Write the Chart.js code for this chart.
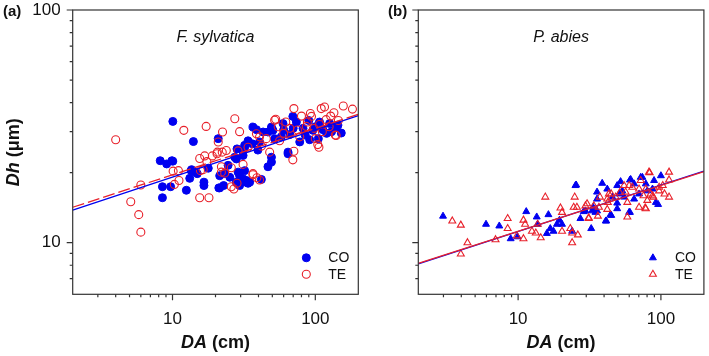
<!DOCTYPE html>
<html lang="en">
<head>
<meta charset="UTF-8">
<title>Dh vs DA</title>
<script src="https://cdn.jsdelivr.net/npm/chart.js@4.4.1/dist/chart.umd.min.js"></script>
<style>
  body { margin: 0; background: #fff; }
  #wrap { position: relative; width: 709px; height: 356px; }
  canvas { position: absolute; top: 0; }
  #chartA { left: 0; }
  #chartB { left: 370px; }
</style>
</head>
<body>
<div id="wrap">
  <canvas id="chartA" width="370" height="356"></canvas>
  <canvas id="chartB" width="339" height="356"></canvas>
</div>
<script>
// axis ticks
const xTicks = [3, 4, 5, 6, 7, 8, 9, 10, 20, 30, 40, 50, 60, 70, 80, 90, 100];
const yTicks = [7, 8, 9, 10, 20, 30, 40, 50, 60, 70, 80, 90, 100];
const tickLabels = [10, 100];

// (a) F. sylvatica, [DA cm, Dh um]
const fsCO = [
  [10.05, 33.2], [14.0, 27.2], [20.9, 28.0], [8.2, 22.5], [9.1, 21.8], [10.05, 22.4], [9.9, 22.5],
  [8.5, 17.4], [9.7, 17.4], [8.5, 15.6], [12.5, 16.8], [13.2, 18.9], [13.5, 20.4], [13.6, 20.6],
  [14.3, 20.2], [14.9, 19.8], [16.6, 18.2], [16.6, 17.6], [17.8, 20.9], [21.1, 17.2], [22.8, 17.6],
  [25.2, 19.1], [29.5, 17.6], [32.6, 18.2], [33.8, 18.0], [41.9, 18.7], [23.2, 19.8], [29.5, 19.4],
  [69.6, 34.9], [36.6, 31.4], [38.7, 30.6], [49.3, 31.4], [59.4, 32.5], [73.7, 33.0], [107, 33.0],
  [126, 32.5], [144, 32.0], [152, 29.6], [140, 31.4], [113, 30.6], [82, 31.0], [96, 30.4],
  [91.3, 27.7], [77.8, 27.1], [66.3, 29.2], [57.8, 28.5], [51.9, 28.0], [46.6, 29.9], [43.1, 29.9],
  [50.5, 30.4], [40.7, 27.1], [39.6, 25.0], [33.8, 27.4], [32.0, 26.2], [31.2, 24.9], [36.2, 26.6],
  [28.3, 25.3], [28.0, 22.9], [31.2, 23.7], [24.5, 21.5], [32.0, 20.4], [49.3, 22.2], [46.6, 21.2],
  [64.4, 24.5], [21.4, 19.4], [28.8, 20.1], [31.2, 18.8], [28.0, 18.2], [33.0, 18.5], [34.7, 18.2],
  [21.4, 17.2], [27.3, 23.3], [32.0, 25.7], [49.3, 23.3], [64.4, 24.1], [60, 30.5], [85, 29.0],
  [100, 31.5], [120, 29.5], [105, 28.0], [70, 31.0], [90, 33.5], [130, 30.0]
];
const fsTE = [
  [4.0, 27.7], [12.0, 30.4], [17.2, 31.6], [6.0, 17.7], [5.1, 15.0], [5.8, 13.2], [6.0, 11.1],
  [10.1, 20.3], [11.0, 20.4], [11.1, 18.5], [10.3, 17.8], [15.5, 23.0], [16.8, 23.6], [17.4, 22.3],
  [19.0, 23.6], [20.6, 24.5], [20.9, 27.1], [15.5, 15.6], [18.0, 15.6], [15.7, 20.4], [16.4, 20.6],
  [25.8, 17.4], [26.9, 17.0], [28.3, 18.0], [36.6, 19.6], [39.0, 19.0], [22.0, 20.1],
  [27.3, 34.1], [22.4, 29.9], [29.5, 30.0], [52.8, 33.9], [70.8, 37.7], [92.3, 35.9], [110, 37.7],
  [116, 38.3], [94, 34.9], [157, 38.7], [182, 37.5], [135, 36.2], [107, 32.2], [119, 33.8],
  [86.5, 31.6], [66.3, 31.0], [62.1, 33.0], [77.8, 28.5], [104, 26.4], [138, 29.0], [20.5, 24.1],
  [22.3, 24.5], [23.8, 24.9], [28.8, 24.8], [33.8, 25.7], [31.2, 21.7], [22.0, 21.2], [25.8, 21.0],
  [23.2, 19.9], [36.6, 19.8], [40.7, 18.6], [69.6, 22.7], [70.8, 24.7], [47.9, 24.5], [56.2, 27.4],
  [40.7, 28.5], [45.4, 28.0], [140, 28.9], [106, 25.7], [38.7, 29.4], [51.9, 33.6], [75, 30.5],
  [98, 31.0], [125, 31.5], [60, 29.5], [88, 33.0], [112, 30.0], [80, 35.0], [145, 33.5], [55, 31.5],
  [100, 28.0], [128, 35.0], [42, 26.0]
];
const fsFitCO = [[2, 13.8], [200, 35.2]];
const fsFitTE = [[2, 14.2], [200, 35.6]];

// (b) P. abies
const paCO = [
  [2.98, 13.0], [5.96, 12.0], [7.38, 11.8], [8.87, 10.4], [9.9, 10.6], [11.4, 13.6], [13.5, 12.9],
  [13.7, 12.0], [16.3, 13.2], [15.9, 10.96], [18.7, 12.0], [17.7, 11.2], [19.5, 12.5], [16.8, 11.5],
  [20.3, 12.0], [23.9, 11.2], [25.2, 17.6], [27.3, 12.7], [32.5, 11.5], [28.8, 13.6], [33.5, 14.2],
  [35.7, 13.7], [38.8, 18.0], [41.4, 12.4], [44.9, 13.1], [49.4, 14.8], [53.6, 16.7], [60.7, 18.6],
  [60.7, 13.5], [72.2, 19.1], [80.3, 16.7], [89.5, 18.5], [92.2, 14.9], [95.6, 14.6], [100, 19.4],
  [25.5, 17.7], [42.1, 17.0], [52.2, 18.3], [61.4, 18.7], [74.2, 19.1], [49.4, 17.6], [50.9, 16.2],
  [35.7, 16.5], [33, 13.7], [34.8, 13.5], [29.6, 13.7], [44.4, 13.2], [49.4, 14.0], [59.9, 13.5],
  [41.1, 12.4], [64.9, 17.9], [70.3, 16.2], [78.4, 17.9], [87.3, 17.0], [45.7, 15.7], [55.2, 15.7],
  [64.9, 15.4], [35.7, 15.4]
];
const paTE = [
  [3.46, 12.4], [3.97, 11.9], [4.42, 10.0], [3.97, 8.94], [6.95, 10.3], [8.45, 12.7], [8.45, 11.5],
  [9.8, 10.7], [10.9, 10.4], [10.9, 12.5], [11.2, 12.0], [12.5, 11.2], [13.3, 11.0], [14.4, 10.5],
  [15.5, 15.7], [19.8, 14.1], [20.3, 13.5], [13.7, 12.0], [20.3, 11.2], [23.2, 11.5], [23.9, 10.0],
  [24.9, 15.7], [25.8, 14.2], [26.2, 10.8], [29.6, 14.4], [31.2, 12.7], [36.8, 14.2], [36.2, 13.0],
  [37.4, 15.7], [42.5, 14.9], [44.9, 16.2], [48.2, 15.7], [51.5, 16.4], [55.2, 17.6], [58.2, 14.9],
  [58.2, 12.9], [63.1, 17.3], [70.3, 14.2], [72.2, 18.5], [75.5, 15.9], [78.4, 14.0], [82.5, 20.1],
  [84.7, 16.2], [88.6, 15.7], [97.1, 16.7], [103, 17.6], [106, 16.2], [114, 15.7], [114, 18.6],
  [114, 20.1], [83.3, 20.0], [70.3, 17.0], [59.9, 17.6], [56.6, 16.5], [78.4, 17.0], [87.3, 15.9],
  [97.1, 17.3], [80.3, 15.2], [77.6, 14.1], [43.2, 16.2], [42.1, 15.4], [33.9, 14.4], [30.4, 14.7],
  [31.2, 12.8], [42.1, 13.9], [24.5, 14.2], [23.9, 11.0]
];
const paFitCO = [[2, 8.1], [200, 20.3]];
const paFitTE = [[2, 8.15], [200, 20.2]];

const BLUE = '#0000f0';
const RED = '#e8202a';
const FONT = '"Liberation Sans", Arial, sans-serif';
Chart.defaults.font.family = FONT;

const toXY = arr => arr.map(([x, y]) => ({ x: x, y: y }));

function mark(ctx, style, x, y, r) {
  ctx.beginPath();
  if (style === 'triangle') {
    let rad = 0;
    for (let i = 0; i < 3; i++) {
      const px = x + Math.sin(rad) * r, py = y - Math.cos(rad) * r;
      i ? ctx.lineTo(px, py) : ctx.moveTo(px, py);
      rad += Math.PI * 2 / 3;
    }
    ctx.closePath();
  } else {
    ctx.arc(x, y, r, 0, Math.PI * 2);
  }
}

function richText(ctx, parts, x, y) {
  let w = 0;
  parts.forEach(p => { ctx.font = p[1]; w += ctx.measureText(p[0]).width; });
  let cx = x - w / 2;
  ctx.textAlign = 'left';
  parts.forEach(p => { ctx.font = p[1]; ctx.fillText(p[0], cx, y); cx += ctx.measureText(p[0]).width; });
}

const decoPlugin = {
  id: 'deco',
  afterDraw(chart, args, o) {
    const ctx = chart.ctx, a = chart.chartArea;
    const xs = chart.scales.x, ys = chart.scales.y;
    ctx.save();
    // frame + ticks
    ctx.strokeStyle = '#333';
    ctx.lineWidth = 1.2;
    ctx.strokeRect(a.left, a.top, a.right - a.left, a.bottom - a.top);
    ctx.beginPath();
    xs.ticks.forEach(t => {
      const px = xs.getPixelForValue(t.value);
      ctx.moveTo(px, a.bottom);
      ctx.lineTo(px, a.bottom + (tickLabels.includes(t.value) ? 6 : 3));
    });
    ys.ticks.forEach(t => {
      const py = ys.getPixelForValue(t.value);
      ctx.moveTo(a.left, py);
      ctx.lineTo(a.left - (tickLabels.includes(t.value) ? 6 : 3), py);
    });
    ctx.stroke();

    ctx.fillStyle = '#111';
    ctx.textBaseline = 'middle';
    // panel tag
    ctx.textAlign = 'left';
    ctx.font = 'bold 15px ' + FONT;
    ctx.fillText(o.tag, o.tagX, 12);
    // species
    ctx.textAlign = 'center';
    ctx.font = 'italic 16px ' + FONT;
    ctx.fillText(o.species, (a.left + a.right) / 2, 38);
    // x title
    richText(ctx, [['DA', 'italic bold 18px ' + FONT], [' (cm)', 'bold 18px ' + FONT]], (a.left + a.right) / 2, 343);
    // y title
    if (o.yTitle) {
      ctx.save();
      ctx.translate(14, (a.top + a.bottom) / 2);
      ctx.rotate(-Math.PI / 2);
      richText(ctx, [['Dh', 'italic bold 18px ' + FONT], [' (\u03bcm)', 'bold 18px ' + FONT]], 0, 0);
      ctx.restore();
    }
    // legend
    const sets = chart.data.datasets.filter(d => d.inLegend);
    sets.forEach((d, i) => {
      const y = a.bottom - 36.5 + i * 16.5;
      const x = a.right - o.legendDx;
      mark(ctx, d.pointStyle, x, y, 4);
      ctx.lineWidth = d.borderWidth;
      ctx.strokeStyle = d.borderColor;
      if (d.backgroundColor !== 'transparent') { ctx.fillStyle = d.backgroundColor; ctx.fill(); }
      ctx.stroke();
      ctx.fillStyle = '#111';
      ctx.textAlign = 'left';
      ctx.font = '14px ' + FONT;
      ctx.fillText(d.label, x + 22, y + 0.5);
    });
    ctx.restore();
  }
};

function makeChart(id, co, te, fitCO, fitTE, style, deco, yw, rightPad, showY, dashTE) {
  return new Chart(document.getElementById(id), {
    type: 'scatter',
    data: {
      datasets: [
        { label: 'TE fit', type: 'line', data: toXY(fitTE), borderColor: RED, borderWidth: 1.3,
          borderDash: dashTE ? [12, 4] : [], pointRadius: 0, order: 0 },
        { label: 'CO fit', type: 'line', data: toXY(fitCO), borderColor: BLUE, borderWidth: 1.3,
          pointRadius: 0, order: 1 },
        { label: 'CO', data: toXY(co), pointStyle: style, pointRadius: 4, backgroundColor: BLUE,
          borderColor: BLUE, borderWidth: 1, inLegend: true, order: 3 },
        { label: 'TE', data: toXY(te), pointStyle: style, pointRadius: 4, backgroundColor: 'transparent',
          borderColor: RED, borderWidth: 1.1, inLegend: true, order: 2 }
      ]
    },
    options: {
      responsive: false,
      animation: false,
      layout: { padding: { top: 10, right: rightPad, bottom: 0, left: 0 } },
      plugins: { legend: { display: false }, tooltip: { enabled: false }, deco: deco },
      scales: {
        x: {
          type: 'logarithmic', min: 2, max: 200,
          afterBuildTicks: s => { s.ticks = xTicks.map(v => ({ value: v })); },
          afterFit: s => { s.height = 61.7; s.paddingLeft = 0; s.paddingRight = 0; },
          grid: { display: false, drawTicks: false },
          border: { display: false },
          ticks: { autoSkip: false, maxRotation: 0, padding: 15, color: '#111', font: { size: 17 },
            callback: v => tickLabels.includes(v) ? String(v) : '' }
        },
        y: {
          type: 'logarithmic', min: 6, max: 100,
          afterBuildTicks: s => { s.ticks = yTicks.map(v => ({ value: v })); },
          afterFit: s => { s.width = yw; s.paddingTop = 0; s.paddingBottom = 0; },
          grid: { display: false, drawTicks: false },
          border: { display: false },
          ticks: { autoSkip: false, padding: 12, color: '#111', font: { size: 17 },
            callback: v => (showY && tickLabels.includes(v)) ? String(v) : '' }
        }
      }
    },
    plugins: [decoPlugin]
  });
}

makeChart('chartA', fsCO, fsTE, fsFitCO, fsFitTE, 'circle',
  { tag: '(a)', tagX: 3, species: 'F. sylvatica', yTitle: true, legendDx: 52 }, 72.7, 11.7, true, true);
makeChart('chartB', paCO, paTE, paFitCO, paFitTE, 'triangle',
  { tag: '(b)', tagX: 18, species: 'P. abies', yTitle: false, legendDx: 51 }, 48.3, 5, false, false);
</script>
</body>
</html>
